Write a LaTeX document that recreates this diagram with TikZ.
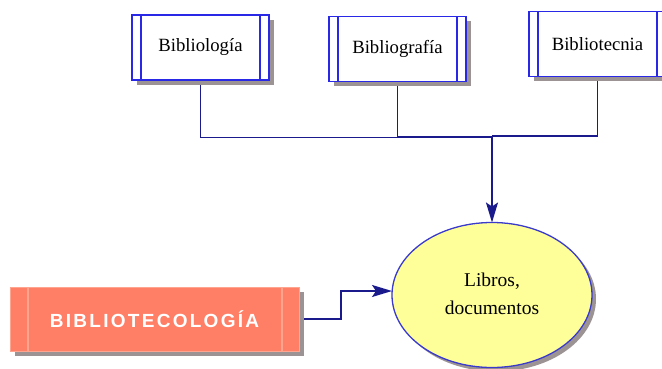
\documentclass[tikz,border=0pt]{standalone}
\usepackage{fontspec}
\setmainfont{Liberation Serif}
\newfontfamily\headfont[LetterSpace=12]{Liberation Sans}
\usetikzlibrary{shadows,shapes.geometric,arrows.meta}

\definecolor{boxblue}{HTML}{2828E6}
\definecolor{connblue}{HTML}{1A1A8C}
\definecolor{shadowgray}{HTML}{9C9494}
\definecolor{salmon}{HTML}{FF7F66}
\definecolor{salmonbar}{HTML}{FFA48F}
\definecolor{paleyellow}{HTML}{FFFF99}
\definecolor{ellipseedge}{HTML}{3A3ACC}

\tikzset{
  topicbox/.style={draw=boxblue, line width=1.4pt, fill=white, outer sep=0pt,
    minimum width=137pt, minimum height=65pt, inner sep=0pt,
    font=\fontsize{18.7}{22}\selectfont,
    drop shadow={shadow xshift=5pt, shadow yshift=-5pt, fill=shadowgray, opacity=1},
    path picture={
      \draw[boxblue, line width=1.4pt]
        ([xshift=9pt]path picture bounding box.north west) -- ([xshift=9pt]path picture bounding box.south west)
        ([xshift=-9pt]path picture bounding box.north east) -- ([xshift=-9pt]path picture bounding box.south east);
    }},
  mainbox/.style={draw=salmonbar, line width=1pt, fill=salmon, outer sep=0pt,
    minimum width=289pt, minimum height=64pt, inner sep=0pt,
    text=white, font=\headfont\bfseries\fontsize{19}{22}\selectfont,
    drop shadow={shadow xshift=5pt, shadow yshift=-5pt, fill=shadowgray, opacity=1},
    path picture={
      \draw[salmonbar, line width=1.2pt]
        ([xshift=18pt]path picture bounding box.north west) -- ([xshift=18pt]path picture bounding box.south west)
        ([xshift=-17pt]path picture bounding box.north east) -- ([xshift=-17pt]path picture bounding box.south east);
    }},
  resultellipse/.style={ellipse, draw=ellipseedge, line width=1.3pt, fill=paleyellow,
    minimum width=200pt, minimum height=145pt, inner sep=0pt, outer sep=0pt,
    font=\fontsize{19.5}{25}\selectfont,
    drop shadow={shadow xshift=4pt, shadow yshift=-4pt, fill=shadowgray, opacity=1}},
  conn/.style={draw=connblue, line width=1.8pt},
  conntip/.style={conn, -{Stealth[length=20pt, width=12pt, inset=4pt]}}
}

\begin{document}
\begin{tikzpicture}[x=1pt, y=-1pt]
  \useasboundingbox (0,0) rectangle (662,369);
  \clip (0,0) rectangle (662,369);

  % topic boxes along the top
  \node[topicbox] (b1) at (200.5,47.5) {Bibliología};
  \node[topicbox] (b2) at (397.5,49)   {Bibliografía};
  \node[topicbox] (b3) at (597.5,44)   {Bibliotecnia};

  % central ellipse (text sits a little below its centre) and main label
  \node[resultellipse] (lib) at (492,295)
    {\raisebox{-7pt}{\begin{tabular}{@{}c@{}}Libros,\\[3pt]documentos\end{tabular}}};
  \node[mainbox] (bib) at (154.5,319) {BIBLIOTECOLOGÍA};

  % tree of connectors joining the three boxes
  \coordinate (hub) at (492,137.5);
  \coordinate (hubr) at (492,136);
  \draw[conn] ([yshift=-5pt]b1.south) |- (hub);
  \draw[conn] ([yshift=-5pt]b2.south) |- ([yshift=1pt]hub);
  \draw[conn] ([yshift=-5pt]b3.south) |- (hubr);
  \draw[conntip] ([yshift=1pt]hub) -- (lib.north);

  % main label into the ellipse
  \draw[conntip] ([xshift=5pt]bib.east) -- ++(37,0) |- ([yshift=4pt]lib.west);
\end{tikzpicture}
\end{document}
